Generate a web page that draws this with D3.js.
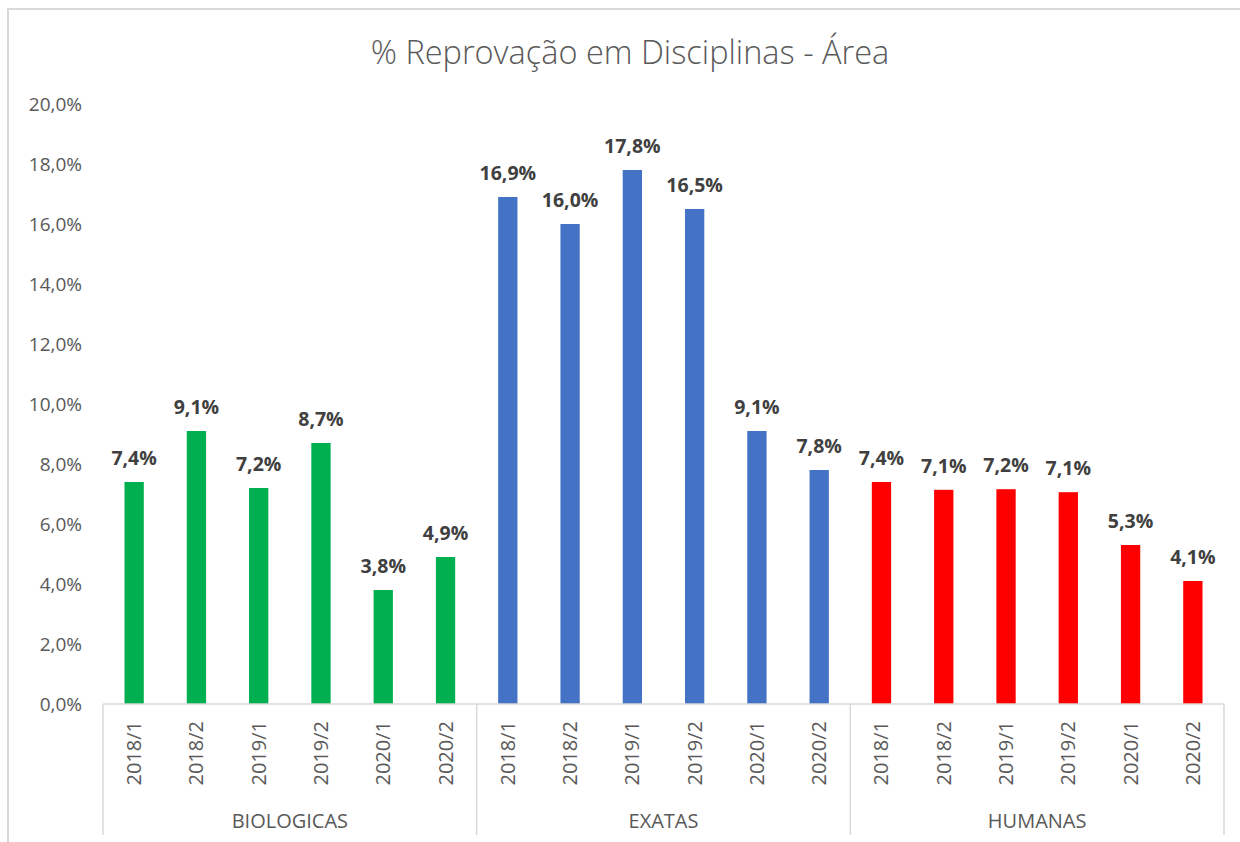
<!DOCTYPE html>
<html>
<head>
<meta charset="utf-8">
<script src="https://cdn.jsdelivr.net/npm/d3@7"></script>
<style>
	body { margin: 0; background: #fff; }
	text { font-family: 'Open Sans', sans-serif; }
</style>
</head>
<body>
<script>
var areas = ['BIOLOGICAS', 'EXATAS', 'HUMANAS'];
var semesters = ['2018/1', '2018/2', '2019/1', '2019/2', '2020/1', '2020/2'];
var colors = ['#00B050', '#4472C4', '#FF0000'];
var biologicas = [7.4, 9.1, 7.2, 8.7, 3.8, 4.9];
var exatas = [16.9, 16.0, 17.8, 16.5, 9.1, 7.8];
var humanas = [7.4, 7.14, 7.16, 7.06, 5.3, 4.1];
var yTicks = [0, 2, 4, 6, 8, 10, 12, 14, 16, 18, 20];

var chart = (function () {

	var width = 1240, height = 842;
	var left = 103, right = 1224, plotTop = 104, bottom = 704;

	var series = [biologicas, exatas, humanas];
	var rows = [];
	areas.forEach(function (a, gi) {
		semesters.forEach(function (s, si) {
			rows.push({ key: a + '|' + s, area: a, sem: s, value: series[gi][si], color: colors[gi] });
		});
	});

	var pct = function (v) { return d3.format('.1f')(v).replace('.', ',') + '%'; };

	var svg = d3.select('body').append('svg')
		.attr('width', width)
		.attr('height', height);

	// chart frame (only left and top edges show in the picture)
	svg.append('rect').attr('x', 8).attr('y', 9).attr('width', 1300).attr('height', 900)
		.attr('fill', 'none').attr('stroke', '#d9d9d9').attr('stroke-width', 2);

	svg.append('text').attr('x', 630).attr('y', 64).attr('text-anchor', 'middle')
		.attr('font-size', 32.5).attr('font-weight', 300).attr('fill', '#595959')
		.text('% Reprovação em Disciplinas - Área');

	var x = d3.scaleBand().domain(rows.map(function (d) { return d.key; }))
		.range([left, right]).paddingInner(0.69).paddingOuter(0.345);
	var xg = d3.scaleBand().domain(areas).range([left, right]);
	var y = d3.scaleLinear().domain([0, 20]).range([bottom, plotTop]);

	// y axis labels
	svg.selectAll('.ytick').data(yTicks).enter().append('text').attr('class', 'ytick')
		.attr('x', 82).attr('y', function (d) { return y(d); }).attr('dy', '0.35em')
		.attr('text-anchor', 'end').attr('font-size', 19).attr('fill', '#595959')
		.text(pct);

	// bars
	svg.selectAll('.bar').data(rows).enter().append('rect').attr('class', 'bar')
		.attr('x', function (d) { return x(d.key); })
		.attr('y', function (d) { return y(d.value); })
		.attr('width', x.bandwidth())
		.attr('height', function (d) { return bottom - y(d.value); })
		.attr('fill', function (d) { return d.color; });

	// value labels
	svg.selectAll('.val').data(rows).enter().append('text').attr('class', 'val')
		.attr('x', function (d) { return x(d.key) + x.bandwidth() / 2; })
		.attr('y', function (d) { return y(d.value) - 17; })
		.attr('text-anchor', 'middle').attr('font-size', 19.5).attr('font-weight', 700).attr('fill', '#404040')
		.text(function (d) { return pct(d.value); });

	// axis line and group separators
	svg.append('line').attr('x1', left).attr('x2', right).attr('y1', bottom).attr('y2', bottom)
		.attr('stroke', '#d9d9d9').attr('stroke-width', 1.5);
	svg.selectAll('.sep').data(areas.concat(['end'])).enter().append('line').attr('class', 'sep')
		.attr('x1', function (d, i) { return i < areas.length ? xg(d) : right; })
		.attr('x2', function (d, i) { return i < areas.length ? xg(d) : right; })
		.attr('y1', bottom).attr('y2', 835)
		.attr('stroke', '#d9d9d9').attr('stroke-width', 1.5);

	// semester labels
	svg.selectAll('.xtick').data(rows).enter().append('text').attr('class', 'xtick')
		.attr('transform', function (d) { return 'translate(' + (x(d.key) + x.bandwidth() / 2) + ',721) rotate(-90)'; })
		.attr('dy', '0.35em').attr('text-anchor', 'end')
		.attr('font-size', 20).attr('fill', '#595959')
		.text(function (d) { return d.sem; });

	// area labels
	svg.selectAll('.area').data(areas).enter().append('text').attr('class', 'area')
		.attr('x', function (d) { return xg(d) + xg.bandwidth() / 2; }).attr('y', 828)
		.attr('text-anchor', 'middle').attr('font-size', 20).attr('fill', '#595959')
		.text(function (d) { return d; });

	return svg;
}());
</script>
</body>
</html>
